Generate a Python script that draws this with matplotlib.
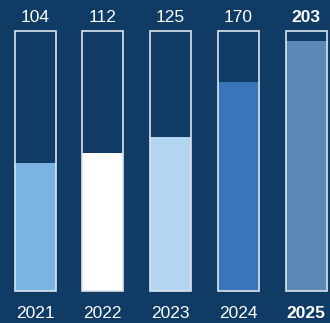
import matplotlib
matplotlib.use("Agg")
import matplotlib.pyplot as plt

years = ["2021", "2022", "2023", "2024", "2025"]
values = [104, 112, 125, 170, 203]
colors = ["#7ab4e2", "#ffffff", "#b3d5f0", "#3a74bc", "#5b89b6"]
box_max = 211

bg = "#0f3b64"
fig = plt.figure(figsize=(3.30, 3.23), dpi=100)
fig.patch.set_facecolor(bg)
ax = fig.add_axes([0, 0, 1, 1])
ax.set_facecolor(bg)

pxu = 271 / 4
ax.set_xlim(-35 / pxu, 4 + 24 / pxu)
ypx = 260 / box_max
ax.set_ylim(-32 / ypx, 291 / ypx)

x = list(range(len(years)))
w = 41 / pxu
ax.bar(x, values, width=w, color=colors, edgecolor="none", zorder=2)
ax.bar(x, [box_max] * len(x), width=w, facecolor="none", edgecolor="#dde4ec", linewidth=1.2, zorder=3)

for i, (yr, v) in enumerate(zip(years, values)):
    bold = i == len(years) - 1
    ax.text(i, 274 / ypx, str(v), ha="center", va="center", color="white",
            fontsize=12.5, fontweight="bold" if bold else "normal", family="Liberation Sans")
    ax.text(i, -22 / ypx, yr, ha="center", va="center", color="white",
            fontsize=12.5, fontweight="bold" if bold else "normal", family="Liberation Sans")

ax.axis("off")
fig.savefig("out.png", dpi=100, facecolor=bg)
